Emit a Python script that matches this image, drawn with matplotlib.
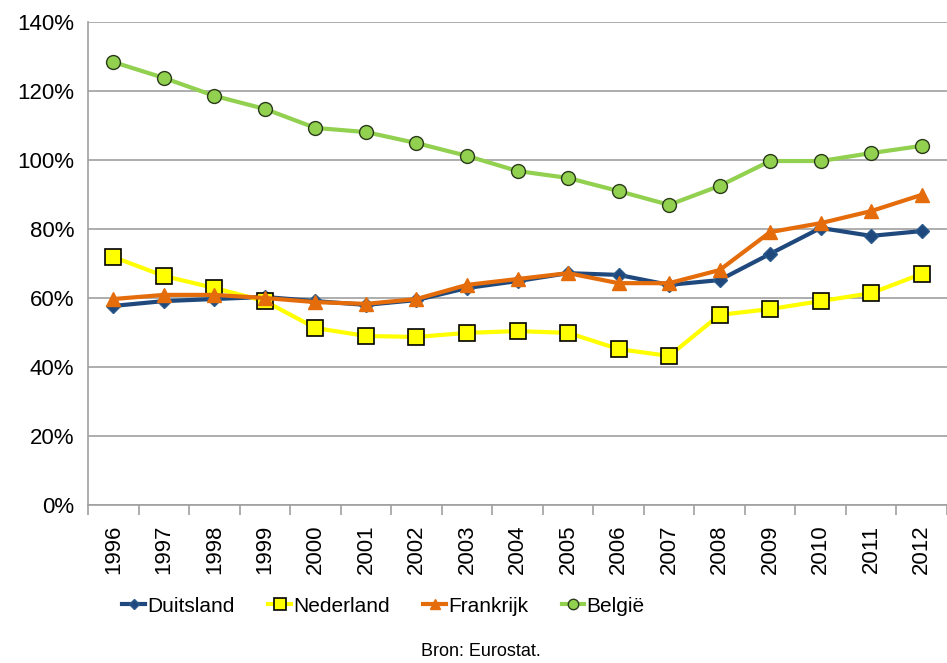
import matplotlib.pyplot as plt
from matplotlib.ticker import FuncFormatter, MultipleLocator

jaren = [str(j) for j in range(1996, 2013)]
duitsland = [57.7, 59.1, 59.7, 60.3, 59.1, 58.0, 59.4, 62.9, 64.9, 67.2, 66.7, 63.8, 65.2, 72.8, 80.3, 78.0, 79.4]
nederland = [71.9, 66.4, 62.9, 59.1, 51.3, 49.0, 48.7, 49.9, 50.4, 49.9, 45.2, 43.2, 55.1, 56.8, 59.1, 61.4, 67.0]
frankrijk = [59.7, 60.9, 60.9, 60.0, 58.8, 58.3, 59.7, 63.8, 65.5, 67.2, 64.3, 64.3, 68.1, 79.1, 81.7, 85.2, 89.9]
belgie = [128.4, 123.8, 118.6, 114.8, 109.3, 108.1, 104.9, 101.2, 96.8, 94.8, 91.0, 87.0, 92.5, 99.7, 99.7, 102.0, 104.1]

plt.rcParams["font.family"] = ["Liberation Sans", "DejaVu Sans"]

fig = plt.figure(figsize=(9.47, 6.63), dpi=100)
ax = fig.add_axes([88 / 947, 1 - 505 / 663, (947 - 88) / 947, (505 - 22) / 663])

x = list(range(len(jaren)))
ax.plot(x, duitsland, color="#1F497D", lw=3, marker="D", ms=7, mfc="#1F497D", mec="#2B5A8C", label="Duitsland", zorder=3)
ax.plot(x, nederland, color="#FFFF00", lw=3, marker="s", ms=11, mfc="#FFFF00", mec="black", mew=1.2, label="Nederland", zorder=4)
ax.plot(x, frankrijk, color="#E46C0A", lw=3, marker="^", ms=10, mfc="#E46C0A", mec="#E46C0A", label="Frankrijk", zorder=5)
ax.plot(x, belgie, color="#92D050", lw=3, marker="o", ms=10, mfc="#92D050", mec="#2A3A1A", mew=1.0, label="België", zorder=6)

ax.set_ylim(0, 140)
ax.set_xlim(-0.5, 16.5 - 8 / 51)
ax.yaxis.set_major_locator(MultipleLocator(20))
ax.yaxis.set_major_formatter(FuncFormatter(lambda v, p: f"{v:.0f}%"))
ax.grid(axis="y", color="#A0A0A0", lw=1.2)
ax.set_axisbelow(True)

ax.set_xticks(x)
ax.set_xticklabels(jaren, rotation=90, fontsize=16)
ax.set_xticks([i - 0.5 for i in range(len(jaren) + 1)], minor=True)
ax.tick_params(axis="x", which="major", length=0, pad=14)
ax.tick_params(axis="x", which="minor", length=7, color="#A0A0A0", width=1.2)
ax.tick_params(axis="y", length=0, labelsize=16, pad=10)

for s in ["top", "right"]:
    ax.spines[s].set_visible(False)
for s in ["left", "bottom"]:
    ax.spines[s].set_color("#A0A0A0")
    ax.spines[s].set_linewidth(1.2)

fig.legend(loc="center", bbox_to_anchor=(0.405, 1 - 606 / 663), ncol=4, frameon=False,
           fontsize=15, handlelength=1.1, handletextpad=0.1, columnspacing=1.6, markerscale=0.75)
fig.text(0.508, 1 - 651 / 663, "Bron: Eurostat.", ha="center", va="center", fontsize=13)

fig.savefig("out.png", dpi=100)
